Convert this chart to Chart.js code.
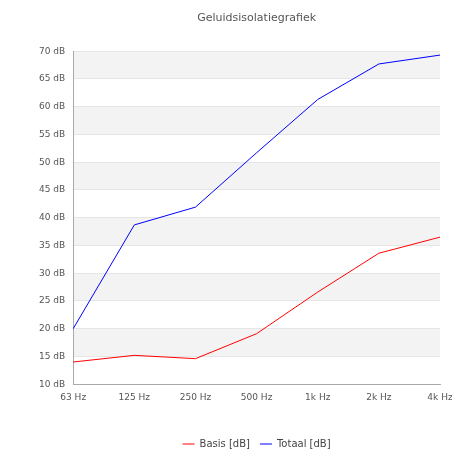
<!DOCTYPE html>
<html><head><meta charset="utf-8">
<script src="https://cdn.jsdelivr.net/npm/chart.js@4"></script>
<style>html,body{margin:0;padding:0;background:#fff}#w{width:452px;height:451px}</style>
</head><body><div id="w"><canvas id="c"></canvas></div>
<script>
const categories = ["63 Hz","125 Hz","250 Hz","500 Hz","1k Hz","2k Hz","4k Hz"];
const basisValues = [14.0, 15.2, 14.6, 19.1, 26.6, 33.6, 36.5];
const totaalValues = [20.0, 38.7, 41.9, 51.7, 61.3, 67.7, 69.3];
const seriesNames = ["Basis [dB]", "Totaal [dB]"];
const yMin = 10, yMax = 70, yStep = 5;

const bands = {
  id: 'bands',
  beforeDraw(chart) {
    const {ctx, chartArea, scales} = chart;
    const y = scales.y;
    ctx.save();
    ctx.fillStyle = '#f3f3f3';
    for (let v = yMax; v > yMin; v -= 2 * yStep) {
      const top = y.getPixelForValue(v), bot = y.getPixelForValue(v - yStep);
      ctx.fillRect(chartArea.left, top, chartArea.right - chartArea.left, bot - top);
    }
    ctx.restore();
  }
};

Chart.defaults.font.family = "'DejaVu Sans', sans-serif";
Chart.defaults.color = '#555';
new Chart(document.getElementById('c'), {
  type: 'line',
  data: {
    labels: categories,
    datasets: [
      {label: seriesNames[0], data: basisValues, borderColor: '#ff0000', backgroundColor: '#ff0000', borderWidth: 1, pointRadius: 0, tension: 0, fill: false},
      {label: seriesNames[1], data: totaalValues, borderColor: '#0000ff', backgroundColor: '#0000ff', borderWidth: 1, pointRadius: 0, tension: 0, fill: false}
    ]
  },
  options: {
    responsive: true, maintainAspectRatio: false, animation: false,
    layout: {autoPadding: false, padding: {left: 31, right: 12, top: 6, bottom: -8}},
    plugins: {
      title: {display: true, fullSize: false, text: 'Geluidsisolatiegrafiek', color: '#555', font: {size: 11, weight: 'normal'}, padding: {top: 6, bottom: 26}},
      legend: {position: 'bottom', fullSize: false, labels: {usePointStyle: true, pointStyle: 'line', pointStyleWidth: 12, boxWidth: 8, font: {size: 10}, padding: 10, color: '#444'}},
      tooltip: {enabled: false}
    },
    scales: {
      x: {grid: {display: false, drawTicks: false}, border: {display: true, color: '#aaa'}, ticks: {font: {size: 9}, maxRotation: 0, padding: 8},
          afterFit(scale) { scale.height += 18; scale.paddingRight = 0; scale.paddingLeft = 0; }},
      y: {min: yMin, max: yMax, grid: {color: '#e6e6e6', drawTicks: false}, border: {display: true, color: '#aaa'},
          ticks: {stepSize: yStep, font: {size: 9}, padding: 8, callback: v => v + ' dB'}}
    }
  },
  plugins: [bands]
});
</script></body></html>
